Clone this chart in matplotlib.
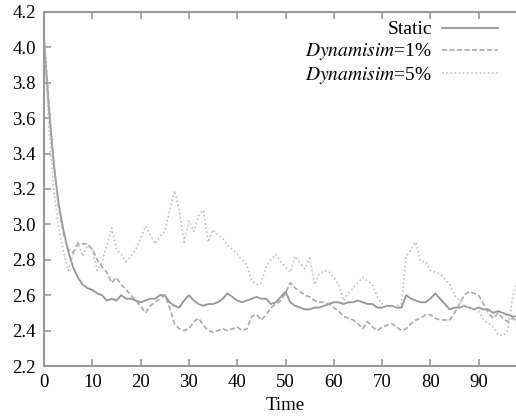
import numpy as np
import matplotlib
matplotlib.use("Agg")
import matplotlib.pyplot as plt

plt.rcParams['font.family'] = ['Liberation Serif', 'DejaVu Serif']
plt.rcParams['mathtext.fontset'] = 'stix'

# time steps
time = np.arange(100)

static = [4.05, 3.65, 3.35, 3.12, 2.97, 2.85, 2.76, 2.70, 2.66, 2.64,
          2.63, 2.61, 2.60, 2.57, 2.58, 2.57, 2.60, 2.58, 2.58, 2.57,
          2.56, 2.57, 2.58, 2.58, 2.60, 2.60, 2.56, 2.54, 2.53, 2.57,
          2.60, 2.57, 2.55, 2.54, 2.55, 2.55, 2.56, 2.58, 2.61, 2.59,
          2.57, 2.56, 2.57, 2.58, 2.59, 2.58, 2.58, 2.55, 2.56, 2.59,
          2.62, 2.56, 2.54, 2.53, 2.52, 2.52, 2.53, 2.53, 2.54, 2.55,
          2.56, 2.56, 2.55, 2.56, 2.56, 2.57, 2.56, 2.55, 2.55, 2.53,
          2.53, 2.54, 2.54, 2.53, 2.53, 2.60, 2.58, 2.57, 2.56, 2.56,
          2.58, 2.61, 2.58, 2.55, 2.52, 2.53, 2.53, 2.54, 2.53, 2.52,
          2.53, 2.52, 2.52, 2.50, 2.51, 2.50, 2.49, 2.48, 2.48, 2.47]

dyn1 = [4.05, 3.70, 3.35, 3.10, 2.95, 2.86, 2.84, 2.89, 2.89, 2.89,
        2.86, 2.80, 2.76, 2.73, 2.67, 2.70, 2.66, 2.63, 2.60, 2.57,
        2.54, 2.50, 2.54, 2.56, 2.58, 2.60, 2.53, 2.44, 2.41, 2.40,
        2.41, 2.45, 2.47, 2.43, 2.40, 2.39, 2.40, 2.41, 2.40, 2.41,
        2.42, 2.40, 2.41, 2.48, 2.49, 2.46, 2.49, 2.53, 2.55, 2.57,
        2.61, 2.67, 2.64, 2.62, 2.60, 2.59, 2.57, 2.56, 2.56, 2.55,
        2.53, 2.51, 2.48, 2.47, 2.46, 2.44, 2.41, 2.45, 2.42, 2.40,
        2.42, 2.43, 2.44, 2.42, 2.40, 2.41, 2.44, 2.46, 2.47, 2.49,
        2.49, 2.47, 2.46, 2.46, 2.46, 2.50, 2.55, 2.60, 2.62, 2.61,
        2.60, 2.55, 2.50, 2.47, 2.50, 2.47, 2.45, 2.47, 2.45, 2.44]

dyn5 = [4.05, 3.55, 3.20, 2.98, 2.85, 2.74, 2.83, 2.90, 2.82, 2.88,
        2.86, 2.74, 2.79, 2.88, 2.98, 2.86, 2.83, 2.79, 2.82, 2.86,
        2.92, 2.99, 2.94, 2.89, 2.93, 2.96, 3.08, 3.19, 3.08, 2.90,
        3.02, 2.96, 3.05, 3.08, 2.90, 2.97, 2.94, 2.92, 2.88, 2.86,
        2.83, 2.80, 2.77, 2.68, 2.66, 2.67, 2.76, 2.80, 2.83, 2.79,
        2.76, 2.73, 2.82, 2.78, 2.75, 2.81, 2.66, 2.72, 2.74, 2.73,
        2.70, 2.66, 2.57, 2.61, 2.64, 2.67, 2.70, 2.68, 2.66, 2.59,
        2.55, 2.54, 2.53, 2.54, 2.55, 2.82, 2.86, 2.90, 2.79, 2.79,
        2.74, 2.73, 2.72, 2.69, 2.66, 2.60, 2.57, 2.54, 2.53, 2.52,
        2.51, 2.46, 2.44, 2.42, 2.38, 2.37, 2.40, 2.58, 2.69, 2.72]

labels = ['Static', r'$\it{Dynamisim}$=1%', r'$\it{Dynamisim}$=5%']

fig = plt.figure(figsize=(5.16, 4.18), dpi=100)
# axes run off the right side of the picture, like the reference crop
ax = fig.add_axes([0.0853, 0.1244, 0.936, 0.847])

ax.plot(time, static, color='#959595', lw=1.3, label=labels[0])
ax.plot(time, dyn1, color='#a8a8a8', lw=1.2, ls=(0, (3, 1.5)), label=labels[1])
ax.plot(time, dyn5, color='#c0c0c0', lw=1.2, ls=(0, (1, 1.5)), label=labels[2])

ax.set_xlim(0, 100)
ax.set_ylim(2.2, 4.2)
ax.set_xticks(range(0, 100, 10))
ax.set_yticks(np.arange(2.2, 4.21, 0.2))
ax.set_yticklabels(['%.1f' % v for v in np.arange(2.2, 4.21, 0.2)])
ax.tick_params(direction='in', length=5, width=1.2, color='#999999',
               labelsize=13.5, top=True, right=True, pad=6)
for s in ax.spines.values():
    s.set_color('#999999')
    s.set_linewidth(1.5)
ax.set_xlabel('Time', fontsize=13.5, labelpad=4)

ax.legend(loc='upper right', bbox_to_anchor=(0.94, 0.975), frameon=False,
          markerfirst=False, fontsize=14, handlelength=2.9,
          handletextpad=0.5, labelspacing=0.15, borderaxespad=0,
          borderpad=0)

fig.savefig('out.png', dpi=100)
